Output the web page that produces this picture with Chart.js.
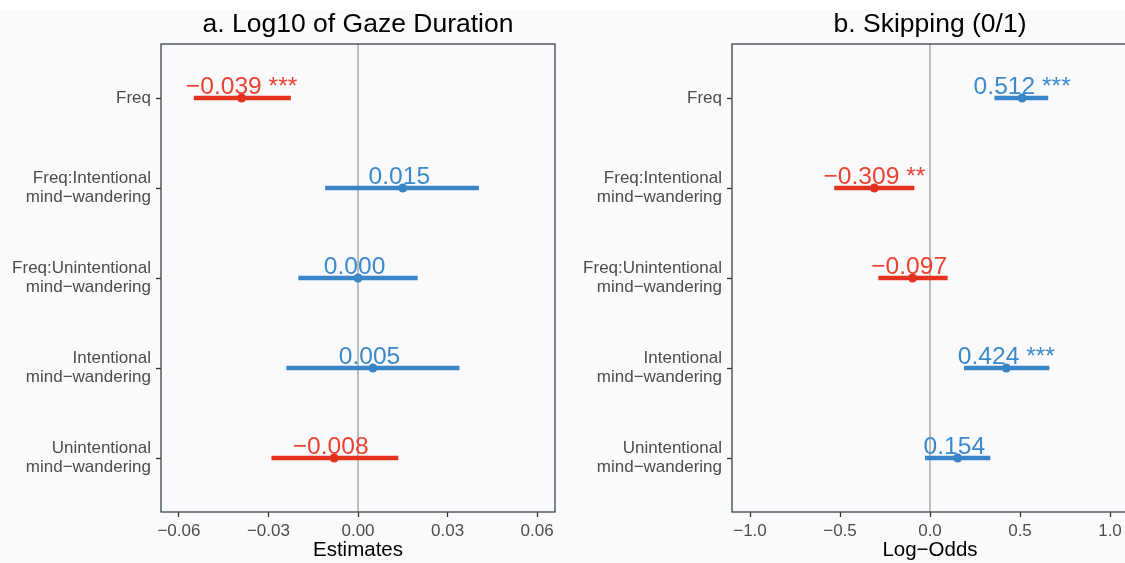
<!DOCTYPE html>
<html>
<head>
<meta charset="utf-8">
<script src="https://cdn.jsdelivr.net/npm/chart.js@4.4.0/dist/chart.umd.min.js"></script>
<style>
  html, body { margin:0; padding:0; width:1125px; height:563px; overflow:hidden; background:#fafafc; }
  #topband { position:absolute; left:0; top:0; width:1125px; height:10px; background:#ffffff; }
  canvas { position:absolute; top:0; }
  #c1 { left:0; }
  #c2 { left:565px; }
</style>
</head>
<body>
<div id="topband"></div>
<canvas id="c1" width="565" height="563"></canvas>
<canvas id="c2" width="575" height="563"></canvas>
<script>
// ---- data ----
const categories = [
  ["Freq"],
  ["Freq:Intentional", "mind\u2212wandering"],
  ["Freq:Unintentional", "mind\u2212wandering"],
  ["Intentional", "mind\u2212wandering"],
  ["Unintentional", "mind\u2212wandering"]
];
const gazeEst   = [-0.039, 0.015, 0.000, 0.005, -0.008];
const gazeLow   = [-0.055, -0.011, -0.020, -0.024, -0.029];
const gazeHigh  = [-0.0225, 0.0405, 0.020, 0.034, 0.0135];
const gazeStars = ["***", "", "", "", ""];

const skipEst   = [0.512, -0.309, -0.097, 0.424, 0.154];
const skipLow   = [0.358, -0.532, -0.287, 0.189, -0.028];
const skipHigh  = [0.657, -0.087, 0.098, 0.663, 0.335];
const skipStars = ["***", "**", "", "***", ""];

const gazeTicks = [-0.06, -0.03, 0.00, 0.03, 0.06];
const gazeTickLabels = ["\u22120.06", "\u22120.03", "0.00", "0.03", "0.06"];
const skipTicks = [-1.0, -0.5, 0.0, 0.5, 1.0];
const skipTickLabels = ["\u22121.0", "\u22120.5", "0.0", "0.5", "1.0"];

// ---- styles ----
const RED = '#e5321f';
const BLUE = '#3985c7';
const RED_TXT = '#ec4331';
const BLUE_TXT = '#3b8acb';
const FONT = "'Liberation Sans', Arial, sans-serif";

function fmt(v) {
  const s = v.toFixed(3);
  return s.replace('-', '\u2212');
}

function makeChart(canvasId, cfg) {
  const {est, low, high, stars, ticks, tickLabels, xmin, xmax, title, xTitle, axisWidth, padRight} = cfg;
  const datasets = [];
  est.forEach((e, i) => {
    const col = e >= 0 ? BLUE : RED;
    datasets.push({
      type: 'scatter',
      showLine: true,
      data: [{x: low[i], y: i + 1}, {x: high[i], y: i + 1}],
      borderColor: col,
      borderWidth: 4.5,
      borderCapStyle: 'butt',
      pointRadius: 0,
      pointHoverRadius: 0
    });
  });
  datasets.push({
    type: 'scatter',
    data: est.map((e, i) => ({x: e, y: i + 1})),
    pointRadius: 4.5,
    pointBackgroundColor: est.map(e => e >= 0 ? BLUE : RED),
    pointBorderWidth: 0,
    borderWidth: 0
  });

  const decor = {
    id: 'decor',
    beforeDatasetsDraw(chart) {
      const {ctx, chartArea: a, scales: {x}} = chart;
      ctx.save();
      const zx = x.getPixelForValue(0);
      ctx.strokeStyle = '#bdbdbd';
      ctx.lineWidth = 2;
      ctx.beginPath();
      ctx.moveTo(zx, a.top);
      ctx.lineTo(zx, a.bottom);
      ctx.stroke();
      ctx.strokeStyle = '#3b4545';
      ctx.lineWidth = 1.3;
      ctx.strokeRect(a.left, a.top, a.right - a.left, a.bottom - a.top);
      ctx.restore();
    },
    afterDatasetsDraw(chart) {
      const {ctx, chartArea: a, scales: {x, y}} = chart;
      ctx.save();
      ctx.font = '24.6px ' + FONT;
      ctx.textAlign = 'center';
      ctx.textBaseline = 'alphabetic';
      est.forEach((e, i) => {
        const px = x.getPixelForValue(e);
        const py = y.getPixelForValue(i + 1);
        ctx.fillStyle = e >= 0 ? BLUE_TXT : RED_TXT;
        ctx.fillText(fmt(e) + ' ' + stars[i], px, py - 4.5);
      });
      // panel title
      ctx.fillStyle = '#000000';
      ctx.font = '26.5px ' + FONT;
      ctx.textAlign = 'center';
      ctx.fillText(title, (a.left + a.right) / 2, 31.5);
      ctx.restore();
    }
  };

  return new Chart(document.getElementById(canvasId), {
    type: 'scatter',
    data: {datasets},
    plugins: [decor],
    options: {
      responsive: false,
      animation: false,
      devicePixelRatio: 1,
      layout: {padding: {top: 44, right: padRight, left: 0, bottom: 0}},
      plugins: {legend: {display: false}, tooltip: {enabled: false}, title: {display: false}},
      scales: {
        x: {
          type: 'linear',
          min: xmin, max: xmax,
          afterBuildTicks(s) { s.ticks = ticks.map(v => ({value: v})); },
          afterFit(s) { s.height = 51; },
          grid: {drawOnChartArea: false, drawTicks: true, tickLength: 5, tickColor: '#333333', tickWidth: 1.3},
          border: {display: false},
          ticks: {
            padding: 4,
            color: '#4d4d4d',
            font: {family: FONT, size: 17},
            maxRotation: 0,
            autoSkip: false,
            callback(v) { const k = ticks.indexOf(v); return k >= 0 ? tickLabels[k] : ''; }
          },
          title: {display: true, text: xTitle, color: '#000000', font: {family: FONT, size: 20.5, lineHeight: 1.2}, padding: {top: 0, bottom: 0}}
        },
        y: {
          type: 'linear',
          reverse: true,
          min: 0.4, max: 5.6,
          afterBuildTicks(s) { s.ticks = categories.map((c, i) => ({value: i + 1})); },
          afterFit(s) { s.width = axisWidth; },
          grid: {drawOnChartArea: false, drawTicks: true, tickLength: 5, tickColor: '#333333', tickWidth: 1.3},
          border: {display: false},
          ticks: {
            padding: 5,
            color: '#4d4d4d',
            font: {family: FONT, size: 17, lineHeight: 1.1},
            autoSkip: false,
            callback(v) { const k = Math.round(v) - 1; return categories[k] || ''; }
          }
        }
      }
    }
  });
}

makeChart('c1', {
  est: gazeEst, low: gazeLow, high: gazeHigh, stars: gazeStars,
  ticks: gazeTicks, tickLabels: gazeTickLabels,
  xmin: -0.066, xmax: 0.066,
  title: 'a. Log10 of Gaze Duration', xTitle: 'Estimates',
  axisWidth: 161, padRight: 10
});
makeChart('c2', {
  est: skipEst, low: skipLow, high: skipHigh, stars: skipStars,
  ticks: skipTicks, tickLabels: skipTickLabels,
  xmin: -1.1, xmax: 1.1,
  title: 'b. Skipping (0/1)', xTitle: 'Log\u2212Odds',
  axisWidth: 167, padRight: 12
});
</script>
</body>
</html>
